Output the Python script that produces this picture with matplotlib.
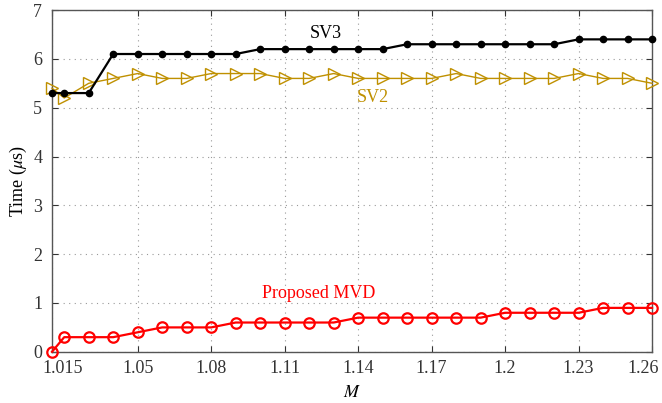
import numpy as np
import matplotlib.pyplot as plt
import matplotlib.transforms as mtransforms

plt.rcParams['font.family'] = ['Liberation Serif', 'DejaVu Serif']
plt.rcParams['mathtext.fontset'] = 'stix'

# x values (M) and the three timing series
M = [1.015, 1.02, 1.03, 1.04, 1.05, 1.06, 1.07, 1.08, 1.09, 1.10, 1.11, 1.12, 1.13,
     1.14, 1.15, 1.16, 1.17, 1.18, 1.19, 1.20, 1.21, 1.22, 1.23, 1.24, 1.25, 1.26]
sv3 = [5.3, 5.3, 5.3, 6.1, 6.1, 6.1, 6.1, 6.1, 6.1, 6.2, 6.2, 6.2, 6.2,
       6.2, 6.2, 6.3, 6.3, 6.3, 6.3, 6.3, 6.3, 6.3, 6.4, 6.4, 6.4, 6.4]
sv2 = [5.4, 5.2, 5.5, 5.6, 5.7, 5.6, 5.6, 5.7, 5.7, 5.7, 5.6, 5.6, 5.7,
       5.6, 5.6, 5.6, 5.6, 5.7, 5.6, 5.6, 5.6, 5.6, 5.7, 5.6, 5.6, 5.5]
mvd = [0.0, 0.3, 0.3, 0.3, 0.4, 0.5, 0.5, 0.5, 0.6, 0.6, 0.6, 0.6, 0.6,
       0.7, 0.7, 0.7, 0.7, 0.7, 0.7, 0.8, 0.8, 0.8, 0.8, 0.9, 0.9, 0.9]

xticks = [1.015, 1.05, 1.08, 1.11, 1.14, 1.17, 1.2, 1.23, 1.26]
xticklabels = ['1.015', '1.05', '1.08', '1.11', '1.14', '1.17', '1.2', '1.23', '1.26']

gold = '#BF9000'

fig = plt.figure(figsize=(6.62, 4.03), dpi=100)
ax = fig.add_axes([0.0785, 0.127, 0.9065, 0.848])

ax.plot(M, sv2, color=gold, lw=1.0, marker='>', ms=9, mfc='none', mec=gold,
        mew=1.0, clip_on=False, zorder=3)
ax.plot(M, sv3, color='black', lw=1.6, marker='o', ms=4.5, mfc='black', mec='black',
        clip_on=False, zorder=4)
ax.plot(M, mvd, color='red', lw=1.6, marker='o', ms=7.5, mfc='none', mec='red',
        mew=1.6, clip_on=False, zorder=5)

ax.text(1.127, 6.53, 'SV3', color='black', fontsize=13, ha='center', va='center')
ax.text(1.146, 5.21, 'SV2', color=gold, fontsize=13, ha='center', va='center')
ax.text(1.124, 1.19, 'Proposed MVD', color='red', fontsize=13, ha='center', va='center')

ax.set_xlim(1.015, 1.26)
ax.set_ylim(0, 7)
ax.set_xticks(xticks)
ax.set_xticklabels(xticklabels)
ax.set_yticks(np.arange(0, 8, 1))
ax.set_xlabel('$M$', fontsize=13, labelpad=5)
ax.set_ylabel(r'Time ($\mu$s)', fontsize=13, labelpad=3)

ax.grid(True, linestyle=(0, (1, 4)), color='#999999', lw=0.8)
ax.tick_params(direction='in', top=True, right=True, labelsize=13, colors='#333333',
               length=4, width=0.8)
ax.tick_params(axis='x', pad=6)
ax.tick_params(axis='y', pad=7)
for sp in ax.spines.values():
    sp.set_color('#555555')
    sp.set_linewidth(1.0)

# end labels are nudged inward, as in the original
labels = ax.get_xticklabels()
labels[0].set_transform(labels[0].get_transform() +
                        mtransforms.ScaledTranslation(0.11, 0, fig.dpi_scale_trans))
labels[-1].set_transform(labels[-1].get_transform() +
                         mtransforms.ScaledTranslation(-0.09, 0, fig.dpi_scale_trans))

fig.savefig('out.png', dpi=100)
